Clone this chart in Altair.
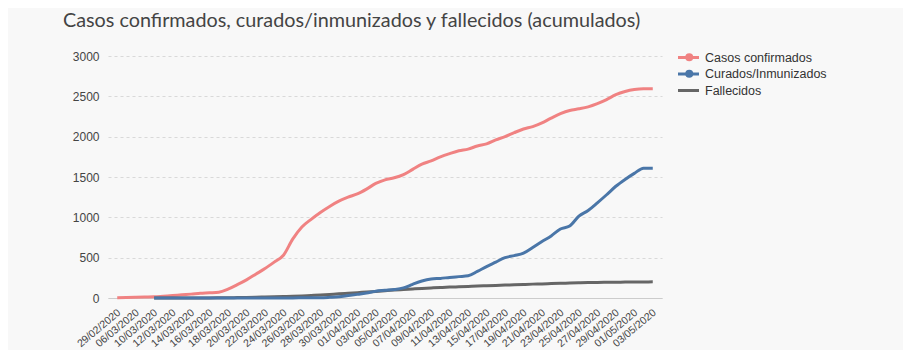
import altair as alt
import pandas as pd

fechas = [
    "29/02/2020", "05/03/2020", "06/03/2020", "08/03/2020",
    "10/03/2020", "11/03/2020", "12/03/2020", "13/03/2020", "14/03/2020",
    "15/03/2020", "16/03/2020", "17/03/2020", "18/03/2020", "19/03/2020",
    "20/03/2020", "21/03/2020", "22/03/2020", "23/03/2020", "24/03/2020",
    "25/03/2020", "26/03/2020", "27/03/2020", "28/03/2020", "29/03/2020",
    "30/03/2020", "31/03/2020", "01/04/2020", "02/04/2020", "03/04/2020",
    "04/04/2020", "05/04/2020", "06/04/2020", "07/04/2020", "08/04/2020",
    "09/04/2020", "10/04/2020", "11/04/2020", "12/04/2020", "13/04/2020",
    "14/04/2020", "15/04/2020", "16/04/2020", "17/04/2020", "18/04/2020",
    "19/04/2020", "20/04/2020", "21/04/2020", "22/04/2020", "23/04/2020",
    "24/04/2020", "25/04/2020", "26/04/2020", "27/04/2020", "28/04/2020",
    "29/04/2020", "30/04/2020", "01/05/2020", "02/05/2020", "03/05/2020",
]

etiquetas_x = [
    "29/02/2020", "06/03/2020", "10/03/2020", "12/03/2020", "14/03/2020",
    "16/03/2020", "18/03/2020", "20/03/2020", "22/03/2020", "24/03/2020",
    "26/03/2020", "28/03/2020", "30/03/2020", "01/04/2020", "03/04/2020",
    "05/04/2020", "07/04/2020", "09/04/2020", "11/04/2020", "13/04/2020",
    "15/04/2020", "17/04/2020", "19/04/2020", "21/04/2020", "23/04/2020",
    "25/04/2020", "27/04/2020", "29/04/2020", "01/05/2020", "03/05/2020",
]

casos_confirmados = [
    2, 5, 8, 11, 14, 22, 30, 40, 48, 58, 64, 72, 110,
    165, 225, 295, 365, 445, 530, 730, 880, 975, 1060, 1135, 1200, 1250,
    1290, 1350, 1420, 1465, 1490, 1530, 1595, 1660, 1700, 1750, 1790, 1825, 1845,
    1885, 1910, 1960, 2000, 2050, 2095, 2125, 2170, 2230, 2285, 2325, 2345, 2370,
    2410, 2460, 2520, 2560, 2585, 2595, 2595,
]

curados_inmunizados = [
    None, None, None, None,
    0, 0, 0, 0, 0, 0, 0, 0, 0, 0, 0, 0,
    1, 1, 1, 1, 2, 2, 3,
    8, 15, 30, 45, 62, 85, 95, 105, 125, 170,
    210, 235, 243, 255, 265, 275, 330, 390, 445, 500,
    525, 555, 625, 700, 770, 855, 892, 1015, 1085, 1180,
    1280, 1385, 1470, 1545, 1610, 1610,
]

fallecidos = [
    None, None, None, None,
    0, 0, 0, 0, 1, 1, 1, 2, 3, 5,
    7, 9, 12, 15, 18, 21, 25, 31, 37, 44,
    52, 59, 66, 74, 82, 90, 98, 105, 112, 119,
    125, 130, 135, 139, 143, 148, 152, 156, 160, 164,
    168, 172, 175, 179, 182, 185, 188, 191, 193, 195,
    196, 197, 198, 199, 200,
]

series_nombres = ["Casos confirmados", "Curados/Inmunizados", "Fallecidos"]
series_colores = ["#f08282", "#4a76a8", "#666666"]
orden_dibujo = ["Casos confirmados", "Fallecidos", "Curados/Inmunizados"]
series_con_punto = ["Casos confirmados", "Curados/Inmunizados"]
colores_punto = ["#f08282", "#4a76a8"]
y_ticks = [0, 500, 1000, 1500, 2000, 2500, 3000]

valores_por_serie = {
    "Casos confirmados": casos_confirmados,
    "Curados/Inmunizados": curados_inmunizados,
    "Fallecidos": fallecidos,
}

rows = []
for nombre in orden_dibujo:
    for f, v in zip(fechas, valores_por_serie[nombre]):
        if v is not None:
            rows.append({"fecha": f, "serie": nombre, "valor": v})
df = pd.DataFrame(rows)
df_puntos = df[df["serie"].isin(series_con_punto)].copy()
df_puntos["serie_punto"] = df_puntos["serie"]

LEG_X = 574
LEG_Y = -5

legend_lineas = alt.Legend(
    title=None,
    orient="none",
    legendX=LEG_X,
    legendY=LEG_Y,
    symbolType="M-2.1,0H2.1",
    symbolSize=100,
    symbolStrokeWidth=3,
    labelFontSize=12.5,
    labelFont="Liberation Sans",
    labelColor="#333333",
    labelOffset=10,
    rowPadding=3.5,
)

legend_puntos = alt.Legend(
    title=None,
    orient="none",
    legendX=LEG_X + 1,
    legendY=LEG_Y,
    symbolType="circle",
    symbolSize=64,
    symbolOpacity=1,
    symbolStrokeWidth=0,
    labelFontSize=12.5,
    labelFont="Liberation Sans",
    labelOpacity=0,
    labelOffset=10,
    rowPadding=3.5,
)

x_enc = alt.X(
    "fecha:N",
    sort=fechas,
    scale=alt.Scale(domain=fechas, padding=1.78),
    axis=alt.Axis(
        values=etiquetas_x, labelAngle=-40, labelAlign="right", labelBaseline="middle",
        title=None, ticks=False, grid=False,
        domainColor="#cccccc", labelFontSize=10.5, labelColor="#444444",
        labelFont="Liberation Sans", labelPadding=13, labelOffset=1.5,
    ),
)
y_enc = alt.Y(
    "valor:Q",
    scale=alt.Scale(domain=[0, 3000]),
    axis=alt.Axis(
        values=y_ticks, format="d", title=None, domain=False, ticks=False,
        gridDash=[3, 3], gridColor="#d9d9d9", labelFontSize=12,
        labelFont="Liberation Sans", labelPadding=9, labelColor="#444444",
    ),
)

lineas = alt.Chart(df).mark_line(strokeWidth=3, interpolate="monotone").encode(
    x=x_enc,
    y=y_enc,
    color=alt.Color(
        "serie:N",
        scale=alt.Scale(domain=series_nombres, range=series_colores),
        legend=legend_lineas,
    ),
)

puntos = alt.Chart(df_puntos).mark_point(filled=True, size=0, opacity=0).encode(
    x=x_enc,
    y=y_enc,
    fill=alt.Fill(
        "serie_punto:N",
        scale=alt.Scale(domain=series_con_punto, range=colores_punto),
        legend=legend_puntos,
    ),
)

chart = alt.layer(lineas, puntos).properties(
    width=554,
    height=242,
    padding={"left": 100, "top": 48, "right": 241, "bottom": 52},
    autosize=alt.AutoSizeParams(type="none"),
    background="#f8f8f8",
    title=alt.TitleParams(
        "Casos confirmados, curados/inmunizados y fallecidos (acumulados)",
        anchor="start",
        frame="group",
        font="Lato",
        fontSize=19.8,
        fontWeight="normal",
        color="#444444",
        dx=-45,
        offset=19,
    ),
).configure_view(stroke=None)

chart.save("out.html", embed_options={"renderer": "svg", "actions": False})
